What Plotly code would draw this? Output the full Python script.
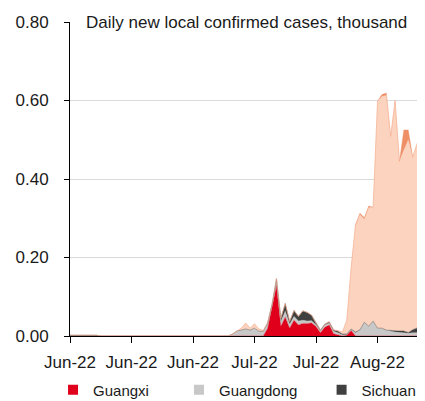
import plotly.graph_objects as go
import pandas as pd

dates = pd.date_range("2022-06-01", "2022-08-21", freq="D")

z = lambda n: [0.0] * n

guangxi = z(45) + [0.02, 0.07, 0.128, 0.025, 0.048, 0.02, 0.04, 0.028, 0.032, 0.032,
                   0.033, 0.024, 0.008, 0.022, 0.028, 0.006, 0.002, 0.0, 0.002, 0.014,
                   0.0] + z(16)
guangdong = z(37) + [0.005, 0.013, 0.015, 0.018, 0.015, 0.02, 0.012, 0.012, 0.012, 0.008,
                     0.01, 0.012, 0.015, 0.01, 0.01, 0.01, 0.008, 0.006, 0.006, 0.004,
                     0.005, 0.006, 0.005, 0.006, 0.006, 0.003, 0.002, 0.003, 0.008, 0.015,
                     0.035, 0.025, 0.038, 0.02, 0.02, 0.015, 0.012, 0.01, 0.009, 0.008,
                     0.007, 0.008, 0.008, 0.01, 0.01]
sichuan = [0.002] * 7 + z(38) + [0.002, 0.003, 0.008, 0.008, 0.02, 0.007, 0.015, 0.012, 0.024, 0.022,
                                 0.014, 0.004, 0.002, 0.002, 0.003, 0.003, 0.004, 0.002, 0.001, 0.001,
                                 0.002, 0.001, 0.0, 0.0, 0.0, 0.0, 0.0, 0.0, 0.002, 0.003,
                                 0.004, 0.005, 0.002, 0.008, 0.012, 0.015, 0.012]
hainan = z(39) + [0.005, 0.015, 0.005, 0.011, 0.006, 0.002] + z(16) + [
    0.002, 0.005, 0.035, 0.157, 0.27, 0.293, 0.262, 0.302, 0.29, 0.578,
    0.59, 0.598, 0.495, 0.583, 0.432, 0.46, 0.49, 0.44, 0.47, 0.445, 0.0]
other = z(65) + [0.004, 0.004, 0.004, 0.004, 0.0, 0.0, 0.005, 0.006, 0.0, 0.004,
                 0.0, 0.052, 0.026, 0.0, 0.0, 0.0, 0.0]

series = [
    ("Guangxi", guangxi, "#E0001B", True),
    ("Guangdong", guangdong, "#C8C8C8", True),
    ("Sichuan", sichuan, "#404040", True),
    ("Hainan", hainan, "#FBD3BF", False),
    ("Other", other, "#EF8F68", False),
]

fig = go.Figure()
for name, vals, col, _ in series:
    fig.add_trace(go.Scatter(
        x=dates, y=vals, name=name, stackgroup="one", mode="lines",
        line=dict(width=0.4, color=col), fillcolor=col, showlegend=False,
        hoverinfo="x+y+name"))

legend_names = ["legend", "legend2", "legend3"]
for (name, vals, col, show), lg in zip(series[:3], legend_names):
    fig.add_trace(go.Scatter(
        x=[None], y=[None], mode="markers", name=name,
        marker=dict(symbol="square", size=10, color=col, line=dict(width=0)),
        legend=lg, showlegend=True))

font_family = "Liberation Sans, Arial, sans-serif"
leg_common = dict(orientation="h", xanchor="left", yanchor="middle",
                  xref="container", yref="container", y=0.028,
                  font=dict(size=15, color="#1a1a1a", family=font_family),
                  bgcolor="rgba(0,0,0,0)", borderwidth=0)

fig.update_layout(
    width=417, height=393,
    margin=dict(l=62, r=1, t=14, b=65, autoexpand=False),
    paper_bgcolor="white", plot_bgcolor="white",
    font=dict(family=font_family, size=17, color="#1a1a1a"),
    legend=dict(x=0.108, **leg_common),
    legend2=dict(x=0.410, **leg_common),
    legend3=dict(x=0.752, **leg_common),
    xaxis=dict(
        type="date", range=["2022-06-01", "2022-08-20 14:00"],
        tick0="2022-06-01", dtick=14 * 86400000, tickformat="%b-%y",
        ticks="outside", ticklen=6, tickcolor="black", showline=True,
        linecolor="black", linewidth=1, showgrid=False, zeroline=False,
        tickfont=dict(size=17), ticklabelstandoff=5, automargin=False),
    yaxis=dict(
        range=[0, 0.8], dtick=0.2, tick0=0, tickformat=".2f",
        ticks="outside", ticklen=5, tickcolor="black", showline=True,
        linecolor="black", linewidth=1, showgrid=True, gridcolor="#D9D9D9",
        gridwidth=1, zeroline=False, tickfont=dict(size=17),
        ticklabelstandoff=12, automargin=False),
    annotations=[dict(
        text="Daily new local confirmed cases, thousand", xref="paper", yref="paper",
        x=0.042, y=1.0, xanchor="left", yanchor="middle", showarrow=False,
        font=dict(size=17, color="#1a1a1a"), bgcolor="white", borderpad=0)],
)

fig.write_html("out.html")
